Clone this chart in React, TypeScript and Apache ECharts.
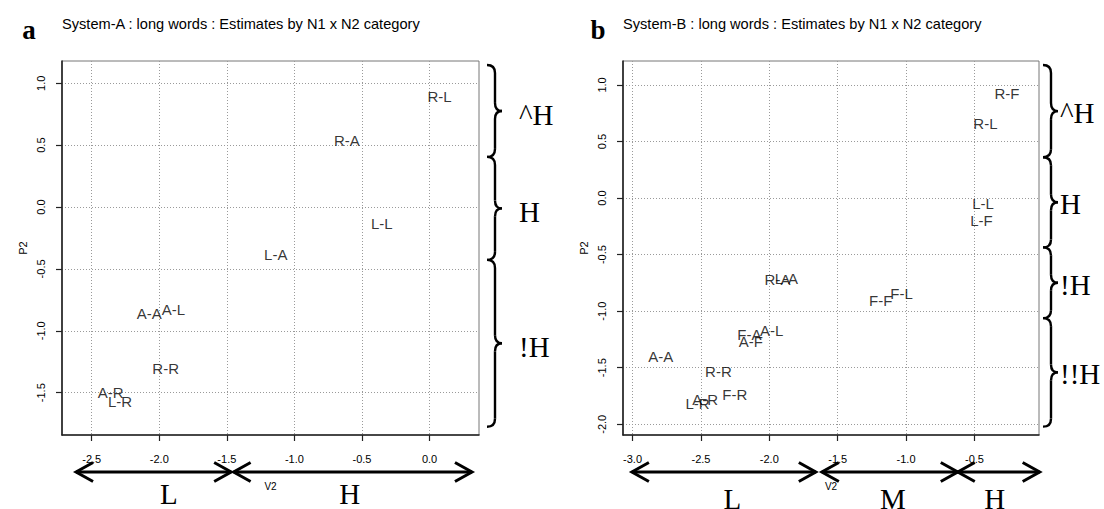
import React, { useEffect, useRef } from "react";
import * as echarts from "echarts";

const titleA = "System-A : long words : Estimates by N1 x N2 category";
const titleB = "System-B : long words : Estimates by N1 x N2 category";

const namesA = ["R-L", "R-A", "L-L", "L-A", "A-A", "A-L", "R-R", "A-R", "L-R"];
const xA = [0.074, -0.612, -0.353, -1.138, -2.074, -1.896, -1.953, -2.36, -2.291];
const yA = [0.897, 0.54, -0.129, -0.387, -0.863, -0.83, -1.307, -1.497, -1.573];

const namesB = ["R-F", "R-L", "L-L", "L-F", "R-A", "L-A", "F-F", "F-L", "F-A", "A-L", "A-F", "A-A", "R-R", "F-R", "A-R", "L-R"];
const xB = [-0.262, -0.42, -0.437, -0.449, -1.94, -1.875, -1.185, -1.033, -2.146, -1.983, -2.136, -2.794, -2.372, -2.252, -2.469, -2.525];
const yB = [0.927, 0.655, -0.047, -0.2, -0.724, -0.715, -0.903, -0.844, -1.203, -1.168, -1.27, -1.398, -1.533, -1.739, -1.777, -1.819];

const ticksAx = [-2.5, -2, -1.5, -1, -0.5, 0];
const ticksAy = [-1.5, -1, -0.5, 0, 0.5, 1];
const ticksBx = [-3, -2.5, -2, -1.5, -1, -0.5];
const ticksBy = [-2, -1.5, -1, -0.5, 0, 0.5, 1];

const rangeAx = [-2.72, 0.366];
const rangeAy = [-1.842, 1.18];
const rangeBx = [-3.07, -0.028];
const rangeBy = [-2.095, 1.212];

const bracesA = [[1.148, 0.405], [0.405, -0.427], [-0.427, -1.775]];
const braceLabelsA = ["^H", "H", "!H"];
const bracesB = [[1.177, 0.361], [0.361, -0.436], [-0.436, -1.062], [-1.062, -2.021]];
const braceLabelsB = ["^H", "H", "!H", "!!H"];

const arrowsA = [[-2.616, -1.468], [-1.45, 0.314]];
const arrowLabelsA = ["L", "H"];
const arrowLabelXA = [-1.93, -0.59];
const arrowsB = [[-3.005, -1.66], [-1.616, -0.622], [-0.622, -0.023]];
const arrowLabelsB = ["L", "M", "H"];
const arrowLabelXB = [-2.27, -1.097, -0.352];

const SANS = '"Liberation Sans", Arial, sans-serif';
const SERIF = '"Liberation Serif", "Times New Roman", serif';

const GRIDLINE = { show: true, lineStyle: { color: "#9a9a9a", type: [1, 2], width: 1 } };
const AXISLINE = { show: true, onZero: false, lineStyle: { color: "#222", width: 1.6 } };

function xAxisOf(grid: number, range: number[], ticks: number[]) {
  return {
    type: "value",
    gridIndex: grid,
    min: range[0],
    max: range[1],
    name: "V2",
    nameLocation: "middle",
    nameGap: 46,
    nameTextStyle: { fontSize: 10, fontFamily: SANS, color: "#000" },
    axisLine: AXISLINE,
    axisTick: { show: true, length: 6, inside: false, customValues: ticks, lineStyle: { color: "#222", width: 1.2 } },
    axisLabel: {
      customValues: ticks,
      margin: 18,
      fontSize: 11,
      fontFamily: SANS,
      color: "#000",
      formatter: (v: number) => v.toFixed(1),
    },
    splitLine: GRIDLINE,
  };
}

function yAxisOf(grid: number, range: number[], ticks: number[]) {
  return {
    type: "value",
    gridIndex: grid,
    min: range[0],
    max: range[1],
    name: "P2",
    nameLocation: "middle",
    nameRotate: 90,
    nameGap: 34,
    nameTextStyle: { fontSize: 11, fontFamily: SANS, color: "#000" },
    axisLine: AXISLINE,
    axisTick: { show: true, length: 6, inside: false, customValues: ticks, lineStyle: { color: "#222", width: 1.2 } },
    axisLabel: {
      customValues: ticks,
      rotate: 90,
      margin: 16,
      fontSize: 11,
      fontFamily: SANS,
      color: "#000",
      formatter: (v: number) => v.toFixed(1),
    },
    splitLine: GRIDLINE,
  };
}

function scatterOf(idx: number, names: string[], xs: number[], ys: number[]) {
  return {
    type: "scatter",
    xAxisIndex: idx,
    yAxisIndex: idx,
    symbolSize: 1,
    itemStyle: { color: "transparent" },
    label: {
      show: true,
      position: "inside",
      formatter: (p: any) => p.data[2],
      fontSize: 15,
      fontFamily: SANS,
      color: "#000",
    },
    emphasis: { disabled: true },
    data: names.map((n, i) => [xs[i], ys[i], n]),
  };
}

const LINE = { stroke: "#000", lineWidth: 2.4, fill: null as any };

function braceEls(x0: number, ya: number, yb: number) {
  const xm = x0 + 8;
  const xt = x0 + 15;
  const r = 8;
  const yc = (ya + yb) / 2;
  return [
    { type: "bezierCurve", shape: { x1: x0, y1: ya, cpx1: xm, cpy1: ya, x2: xm, y2: ya + r }, style: LINE },
    { type: "line", shape: { x1: xm, y1: ya + r, x2: xm, y2: yc - r }, style: LINE },
    { type: "bezierCurve", shape: { x1: xm, y1: yc - r, cpx1: xm, cpy1: yc, x2: xt, y2: yc }, style: LINE },
    { type: "bezierCurve", shape: { x1: xt, y1: yc, cpx1: xm, cpy1: yc, x2: xm, y2: yc + r }, style: LINE },
    { type: "line", shape: { x1: xm, y1: yc + r, x2: xm, y2: yb - r }, style: LINE },
    { type: "bezierCurve", shape: { x1: xm, y1: yb - r, cpx1: xm, cpy1: yb, x2: x0, y2: yb }, style: LINE },
  ];
}

function arrowEls(xl: number, xr: number, y: number) {
  const st = { stroke: "#000", lineWidth: 3, fill: null as any };
  const hl = 17, hh = 9.5;
  return [
    { type: "line", shape: { x1: xl, y1: y, x2: xr, y2: y }, style: st },
    { type: "polyline", shape: { points: [[xl + hl, y - hh], [xl, y], [xl + hl, y + hh]] }, style: st },
    { type: "polyline", shape: { points: [[xr - hl, y - hh], [xr, y], [xr - hl, y + hh]] }, style: st },
  ];
}

function textEl(text: string, x: number, y: number, font: string, align = "center") {
  return {
    type: "text",
    x,
    y,
    style: {
      text,
      font,
      fill: "#000",
      align,
      textAlign: align,
      verticalAlign: "middle",
      textVerticalAlign: "middle",
    },
  };
}

export default function App() {
  const ref = useRef<HTMLDivElement>(null);
  useEffect(() => {
    if (!ref.current) return;
    const chart = echarts.init(ref.current, undefined, { renderer: "svg" });
    chart.setOption({
      animation: false,
      backgroundColor: "#fff",
      title: [
        { text: titleA, left: 57, top: 11, textStyle: { fontSize: 14.6, fontWeight: "normal", fontFamily: SANS, color: "#000" } },
        { text: titleB, left: 618, top: 11, textStyle: { fontSize: 14.6, fontWeight: "normal", fontFamily: SANS, color: "#000" } },
      ],
      grid: [
        { left: 62, top: 61, width: 417, height: 374, show: true, borderColor: "#777", borderWidth: 1, backgroundColor: "transparent" },
        { left: 623, top: 61, width: 416, height: 374, show: true, borderColor: "#777", borderWidth: 1, backgroundColor: "transparent" },
      ],
      xAxis: [xAxisOf(0, rangeAx, ticksAx), xAxisOf(1, rangeBx, ticksBx)],
      yAxis: [yAxisOf(0, rangeAy, ticksAy), yAxisOf(1, rangeBy, ticksBy)],
      series: [scatterOf(0, namesA, xA, yA), scatterOf(1, namesB, xB, yB)],
    });

    const px = (g: number, x: number, y: number) => chart.convertToPixel({ gridIndex: g } as any, [x, y]) as number[];
    const els: any[] = [];
    els.push(textEl("a", 29, 30, `bold 27px ${SERIF}`));
    els.push(textEl("b", 598, 30, `bold 27px ${SERIF}`));

    bracesA.forEach((b, i) => {
      const ya = px(0, 0, b[0])[1];
      const yb = px(0, 0, b[1])[1];
      els.push(...braceEls(487, ya, yb));
      els.push(textEl(braceLabelsA[i], 519, (ya + yb) / 2 + 4, `29px ${SERIF}`, "left"));
    });
    bracesB.forEach((b, i) => {
      const ya = px(1, -1, b[0])[1];
      const yb = px(1, -1, b[1])[1];
      els.push(...braceEls(1043, ya, yb));
      els.push(textEl(braceLabelsB[i], 1060, (ya + yb) / 2 + 2, `29px ${SERIF}`, "left"));
    });

    arrowsA.forEach((a) => {
      const xl = px(0, a[0], 0)[0];
      const xr = px(0, a[1], 0)[0];
      els.push(...arrowEls(xl, xr, 472));
    });
    arrowLabelXA.forEach((x, i) => {
      els.push(textEl(arrowLabelsA[i], px(0, x, 0)[0], 494, `29px ${SERIF}`));
    });
    arrowsB.forEach((a) => {
      const xl = px(1, a[0], 0)[0];
      const xr = px(1, a[1], 0)[0];
      els.push(...arrowEls(xl, xr, 472));
    });
    arrowLabelXB.forEach((x, i) => {
      els.push(textEl(arrowLabelsB[i], px(1, x, 0)[0], 499, `29px ${SERIF}`));
    });

    chart.setOption({ graphic: { elements: els } });
    return () => chart.dispose();
  }, []);
  return <div ref={ref} style={{ position: "absolute", left: 0, top: 0, width: 1104, height: 509 }} />;
}
